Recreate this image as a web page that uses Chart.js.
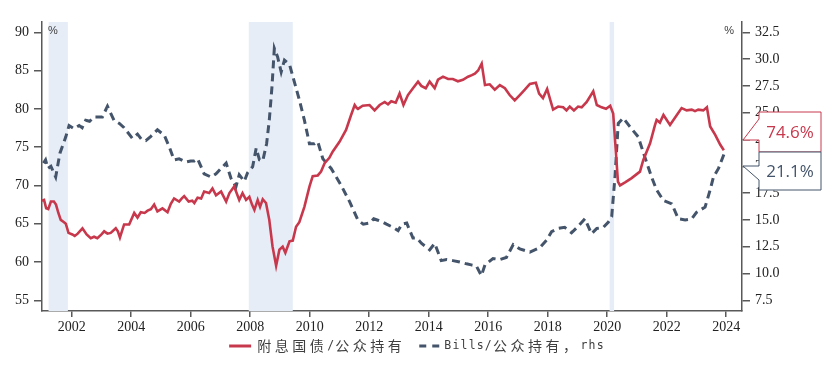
<!DOCTYPE html>
<html lang="zh">
<head>
  <meta charset="UTF-8">
  <title>附息国债与Bills占公众持有比例</title>
  <script src="https://cdn.jsdelivr.net/npm/chart.js"></script>
  <style>
    body { margin: 0; padding: 0; background: #fff; }
    #wrap { width: 834px; height: 367px; }
  </style>
</head>
<body>
  <div id="wrap"><canvas id="chart" width="834" height="367"></canvas></div>
  <script>
    // 附息国债/公众持有 (左轴, %)
    const redYears = [2001.00, 2001.07, 2001.14, 2001.21, 2001.30, 2001.40, 2001.47, 2001.55, 2001.63, 2001.74, 2001.80, 2001.89,
      2002.02, 2002.10, 2002.20, 2002.36, 2002.50, 2002.64, 2002.75, 2002.86, 2003.00, 2003.09, 2003.20, 2003.31, 2003.48,
      2003.55, 2003.62, 2003.76, 2003.93, 2004.10, 2004.21, 2004.32, 2004.45, 2004.55, 2004.66, 2004.77, 2004.88, 2005.05,
      2005.22, 2005.33, 2005.44, 2005.61, 2005.70, 2005.78, 2005.93, 2006.05, 2006.12, 2006.23, 2006.35, 2006.45, 2006.62,
      2006.73, 2006.85, 2007.02, 2007.19, 2007.30, 2007.46, 2007.63, 2007.74, 2007.86, 2007.97, 2008.06, 2008.14, 2008.25,
      2008.33, 2008.42, 2008.53, 2008.64, 2008.75, 2008.87, 2008.98, 2009.09, 2009.18, 2009.32, 2009.43, 2009.54, 2009.65,
      2009.82, 2009.99, 2010.10, 2010.27, 2010.38, 2010.50, 2010.66, 2010.77, 2011.00, 2011.22, 2011.39, 2011.51, 2011.58,
      2011.62, 2011.78, 2012.01, 2012.18, 2012.35, 2012.52, 2012.63, 2012.74, 2012.89, 2013.02, 2013.15, 2013.30, 2013.47,
      2013.64, 2013.75, 2013.90, 2014.03, 2014.20, 2014.31, 2014.48, 2014.65, 2014.81, 2014.98, 2015.15, 2015.32, 2015.45,
      2015.55, 2015.66, 2015.78, 2015.89, 2016.05, 2016.22, 2016.39, 2016.56, 2016.72, 2016.89, 2017.06, 2017.23, 2017.40,
      2017.60, 2017.71, 2017.84, 2017.98, 2018.09, 2018.18, 2018.35, 2018.52, 2018.63, 2018.74, 2018.88, 2019.02, 2019.14,
      2019.31, 2019.53, 2019.65, 2019.81, 2019.96, 2020.10, 2020.20, 2020.36, 2020.43, 2020.60, 2020.82, 2021.10, 2021.21,
      2021.44, 2021.60, 2021.66, 2021.77, 2021.89, 2022.11, 2022.34, 2022.50, 2022.67, 2022.84, 2022.95, 2023.06, 2023.23,
      2023.35, 2023.46, 2023.63, 2023.80, 2023.92];
    const redVals = [68.0, 68.1, 67.0, 66.9, 67.9, 67.9, 67.5, 66.4, 65.5, 65.2, 65.0, 63.8,
      63.6, 63.4, 63.7, 64.4, 63.6, 63.1, 63.3, 63.1, 63.6, 64.0, 63.7, 63.8, 64.4,
      64.0, 63.2, 64.9, 64.9, 66.4, 65.8, 66.5, 66.4, 66.7, 66.9, 67.5, 66.6, 67.0,
      66.5, 67.6, 68.3, 67.9, 68.3, 68.6, 67.9, 68.0, 67.7, 68.4, 68.3, 69.2, 69.0,
      69.6, 68.7, 69.2, 67.9, 69.0, 69.85, 68.1, 69.0, 68.1, 68.5, 67.5, 66.8, 68.1,
      67.2, 68.2, 67.7, 65.5, 62.0, 59.5, 61.6, 62.0, 61.2, 62.7, 62.8, 64.6, 65.2,
      67.2, 69.85, 71.2, 71.3, 71.8, 72.9, 73.6, 74.4, 75.7, 77.25, 79.2, 80.5, 80.1,
      80.0, 80.4, 80.5, 79.8, 80.5, 80.9, 80.6, 81.0, 80.8, 82.0, 80.5, 81.8, 82.7,
      83.55, 83.0, 82.7, 83.55, 82.7, 83.8, 84.2, 83.9, 83.9, 83.6, 83.8, 84.2, 84.4,
      84.6, 85.0, 85.9, 83.1, 83.2, 82.5, 83.1, 82.7, 81.8, 81.1, 81.8, 82.5, 83.25,
      83.4, 82.0, 81.4, 82.6, 81.1, 79.9, 80.3, 80.2, 79.8, 80.3, 79.8, 80.3, 80.2,
      80.9, 82.3, 80.5, 80.2, 80.0, 80.4, 79.4, 70.5, 70.0, 70.4, 70.95, 71.8, 73.3,
      75.5, 77.8, 78.55, 78.2, 79.2, 77.9, 79.2, 80.1, 79.8, 79.9, 79.7, 79.9, 79.8,
      80.2, 77.7, 76.6, 75.3, 74.6];

    // Bills/公众持有 (右轴, %)
    const blueYears = [2001.05, 2001.12, 2001.20, 2001.30, 2001.46, 2001.60, 2001.80, 2001.91, 2002.08, 2002.25, 2002.35,
      2002.47, 2002.60, 2002.75, 2003.03, 2003.20, 2003.42, 2003.60, 2003.76, 2004.04, 2004.21, 2004.35, 2004.49, 2004.66,
      2004.88, 2005.11, 2005.28, 2005.44, 2005.61, 2005.84, 2006.00, 2006.12, 2006.23, 2006.45, 2006.68, 2006.85, 2007.02,
      2007.19, 2007.35, 2007.52, 2007.63, 2007.80, 2007.91, 2008.08, 2008.20, 2008.31, 2008.42, 2008.55, 2008.64, 2008.73,
      2008.81, 2008.92, 2009.04, 2009.15, 2009.32, 2009.48, 2009.65, 2009.82, 2009.99, 2010.16, 2010.27, 2010.44, 2010.72,
      2011.06, 2011.34, 2011.62, 2011.80, 2012.01, 2012.15, 2012.29, 2012.45, 2012.58, 2012.80, 2012.97, 2013.10, 2013.26,
      2013.47, 2013.60, 2013.76, 2013.90, 2014.03, 2014.20, 2014.42, 2014.60, 2014.81, 2015.00, 2015.27, 2015.43, 2015.60,
      2015.77, 2015.89, 2016.16, 2016.39, 2016.61, 2016.84, 2017.06, 2017.40, 2017.73, 2017.96, 2018.13, 2018.35, 2018.57,
      2018.80, 2019.02, 2019.25, 2019.47, 2019.65, 2019.87, 2020.04, 2020.15, 2020.26, 2020.37, 2020.54, 2020.76, 2021.04,
      2021.26, 2021.49, 2021.66, 2021.89, 2022.17, 2022.39, 2022.62, 2022.84, 2023.00, 2023.29, 2023.46, 2023.57, 2023.74,
      2023.92];
    const blueVals = [20.3, 20.6, 19.8, 20.0, 19.0, 21.2, 22.75, 23.8, 23.5, 23.8, 23.6,
      24.3, 24.2, 24.6, 24.6, 25.6, 24.3, 24.0, 23.6, 22.6, 23.0, 22.5, 22.4, 22.8,
      23.4, 22.9, 21.8, 20.6, 20.7, 20.4, 20.5, 20.5, 20.7, 19.3, 19.0, 19.3, 19.8,
      20.3, 18.9, 18.1, 19.2, 18.6, 19.4, 19.95, 21.7, 20.6, 20.5, 22.1, 24.3, 27.4,
      31.0, 30.2, 28.8, 29.9, 29.5, 27.9, 26.2, 24.3, 22.1, 22.1, 22.3, 20.7, 19.8,
      18.2, 16.7, 14.97, 14.6, 14.7, 15.1, 14.97, 14.8, 14.6, 14.3, 14.0, 14.6, 14.7,
      13.3, 13.3, 12.8, 12.5, 12.2, 12.8, 11.2, 11.3, 11.2, 11.1, 10.9, 10.8, 10.7,
      9.8, 10.8, 11.4, 11.3, 11.5, 12.7, 12.3, 12.0, 12.4, 13.1, 13.9, 14.2, 14.3,
      13.8, 14.4, 15.1, 13.7, 14.2, 14.3, 14.8, 15.3, 19.0, 24.0, 24.5, 23.7, 22.75,
      20.9, 19.0, 17.8, 16.8, 16.5, 15.1, 15.0, 15.1, 15.7, 16.2, 17.8, 19.0, 19.8,
      21.1];

    // 坐标轴刻度
    const xTickVals = [2002, 2004, 2006, 2008, 2010, 2012, 2014, 2016, 2018, 2020, 2022, 2024];
    const yTickVals = [55, 60, 65, 70, 75, 80, 85, 90];
    const y2TickVals = [7.5, 10, 12.5, 15, 17.5, 20, 22.5, 25, 27.5, 30, 32.5];

    // 衰退期阴影
    const recStart = [2001.22, 2007.95, 2020.08];
    const recEnd = [2001.87, 2009.43, 2020.23];

    const seriesNames = ['附息国债/公众持有', 'Bills/公众持有，rhs'];
    const lastLabels = ['74.6%', '21.1%'];

    const RED = '#C8384C';
    const NAVY = '#44546A';
    const AXIS = '#595959';
    const SHADE = '#E6EDF7';
    const tickFont = { family: '"Liberation Serif", serif', size: 14 };

    // 中英文混排：中文用 Noto Sans CJK，西文用等宽字体
    function drawMixed(ctx, str, x, y, color, measureOnly) {
      let cx = x;
      for (const ch of str) {
        const cjk = /[\u3000-\u9fff\uff00-\uffef]/.test(ch);
        ctx.font = cjk ? '14px "Noto Sans CJK SC"' : '11.5px "DejaVu Sans Mono"';
        const w = ctx.measureText(ch).width + (cjk ? 3.5 : 1.2);
        if (!measureOnly) {
          ctx.fillStyle = color;
          ctx.textBaseline = 'middle';
          ctx.textAlign = 'left';
          ctx.fillText(ch, cx, y);
        }
        cx += w;
      }
      return cx - x;
    }

    const decorPlugin = {
      id: 'decor',
      beforeDatasetsDraw(chart) {
        const { ctx, chartArea, scales } = chart;
        ctx.save();
        ctx.fillStyle = SHADE;
        recStart.forEach((s, i) => {
          const x0 = scales.x.getPixelForValue(s);
          const x1 = scales.x.getPixelForValue(recEnd[i]);
          ctx.fillRect(x0, chartArea.top, x1 - x0, chartArea.bottom - chartArea.top);
        });
        ctx.restore();
      },
      afterDraw(chart) {
        const { ctx, chartArea } = chart;
        ctx.save();
        // 单位
        ctx.font = '11px "Liberation Sans", sans-serif';
        ctx.fillStyle = '#404040';
        ctx.textBaseline = 'middle';
        ctx.textAlign = 'left';
        ctx.fillText('%', chartArea.left + 6, chartArea.top + 9);
        ctx.textAlign = 'right';
        ctx.fillText('%', chartArea.right - 8, chartArea.top + 9);

        // 末值标签
        const bx = chartArea.right + 17, bw = 62;
        const boxes = [
          { top: chartArea.top + 90, h: 40, color: RED, tipA: 7, tipY: 28, tipB: 28, text: lastLabels[0] },
          { top: chartArea.top + 130, h: 38, color: NAVY, tipA: 14, tipY: 14, tipB: 28, text: lastLabels[1] }
        ];
        boxes.forEach(b => {
          ctx.fillStyle = '#fff';
          ctx.strokeStyle = b.color;
          ctx.lineWidth = 1;
          ctx.beginPath();
          ctx.moveTo(bx, b.top);
          ctx.lineTo(bx + bw, b.top);
          ctx.lineTo(bx + bw, b.top + b.h);
          ctx.lineTo(bx, b.top + b.h);
          ctx.lineTo(bx, b.top + b.tipB);
          ctx.lineTo(chartArea.right + 1, b.top + b.tipY);
          ctx.lineTo(bx, b.top + b.tipA);
          ctx.closePath();
          ctx.fill();
          ctx.stroke();
          ctx.font = '17px "Open Sans", "Liberation Sans", sans-serif';
          ctx.fillStyle = b.color;
          ctx.textAlign = 'center';
          ctx.textBaseline = 'middle';
          ctx.fillText(b.text, bx + bw / 2, b.top + b.h / 2 + 1);
        });

        // 图例
        const ly = chartArea.bottom + 35;
        const lineW = 22, gap = 6, between = 14;
        const w0 = drawMixed(ctx, seriesNames[0], 0, 0, '', true);
        const w1 = drawMixed(ctx, seriesNames[1], 0, 0, '', true);
        const total = lineW + gap + w0 + between + lineW + 3 + w1;
        let lx = (chart.width - total) / 2;
        ctx.lineWidth = 3;
        ctx.strokeStyle = RED;
        ctx.setLineDash([]);
        ctx.beginPath(); ctx.moveTo(lx, ly); ctx.lineTo(lx + lineW, ly); ctx.stroke();
        lx += lineW + gap;
        lx += drawMixed(ctx, seriesNames[0], lx, ly, '#404040');
        lx += between;
        ctx.strokeStyle = NAVY;
        ctx.setLineDash([7, 6]);
        ctx.beginPath(); ctx.moveTo(lx, ly); ctx.lineTo(lx + lineW, ly); ctx.stroke();
        ctx.setLineDash([]);
        lx += lineW + 3;
        drawMixed(ctx, seriesNames[1], lx, ly, '#404040');
        ctx.restore();
      }
    };

    const toPoints = (xs, ys) => xs.map((x, i) => ({ x: x, y: ys[i] }));

    new Chart(document.getElementById('chart'), {
      type: 'line',
      data: {
        datasets: [
          {
            label: seriesNames[0],
            data: toPoints(redYears, redVals),
            yAxisID: 'y',
            borderColor: RED,
            borderWidth: 2.6,
            pointRadius: 0,
            tension: 0
          },
          {
            label: seriesNames[1],
            data: toPoints(blueYears, blueVals),
            yAxisID: 'y2',
            borderColor: NAVY,
            borderWidth: 3,
            borderDash: [8, 5],
            pointRadius: 0,
            tension: 0
          }
        ]
      },
      options: {
        responsive: false,
        animation: false,
        devicePixelRatio: 1,
        layout: { padding: { top: 22, left: 0, right: 0, bottom: 0 } },
        plugins: {
          legend: { display: false },
          tooltip: { enabled: false }
        },
        scales: {
          x: {
            type: 'linear',
            min: 2001.0,
            max: 2024.53,
            afterBuildTicks: s => { s.ticks = xTickVals.map(v => ({ value: v })); },
            afterFit: s => { s.height = 56; },
            ticks: { callback: v => String(v), font: tickFont, color: '#222', padding: 2, maxRotation: 0, autoSkip: false },
            grid: { drawOnChartArea: false, tickLength: 6, color: AXIS, lineWidth: 1.5 },
            border: { color: AXIS, width: 1.5 }
          },
          y: {
            position: 'left',
            min: 53.6,
            max: 91.34,
            afterBuildTicks: s => { s.ticks = yTickVals.map(v => ({ value: v })); },
            afterFit: s => { s.width = 42; },
            ticks: { font: tickFont, color: '#222', padding: 5 },
            grid: { drawOnChartArea: false, tickLength: 8, color: AXIS, lineWidth: 1.5 },
            border: { color: AXIS, width: 1.5 }
          },
          y2: {
            position: 'right',
            min: 6.5,
            max: 33.46,
            afterBuildTicks: s => { s.ticks = y2TickVals.map(v => ({ value: v })); },
            afterFit: s => { s.width = 92; },
            ticks: { callback: v => v.toFixed(1), font: tickFont, color: '#222', padding: 5 },
            grid: { drawOnChartArea: false, tickLength: 8, color: AXIS, lineWidth: 1.5 },
            border: { color: AXIS, width: 1.5 }
          }
        }
      },
      plugins: [decorPlugin]
    });
  </script>
</body>
</html>
